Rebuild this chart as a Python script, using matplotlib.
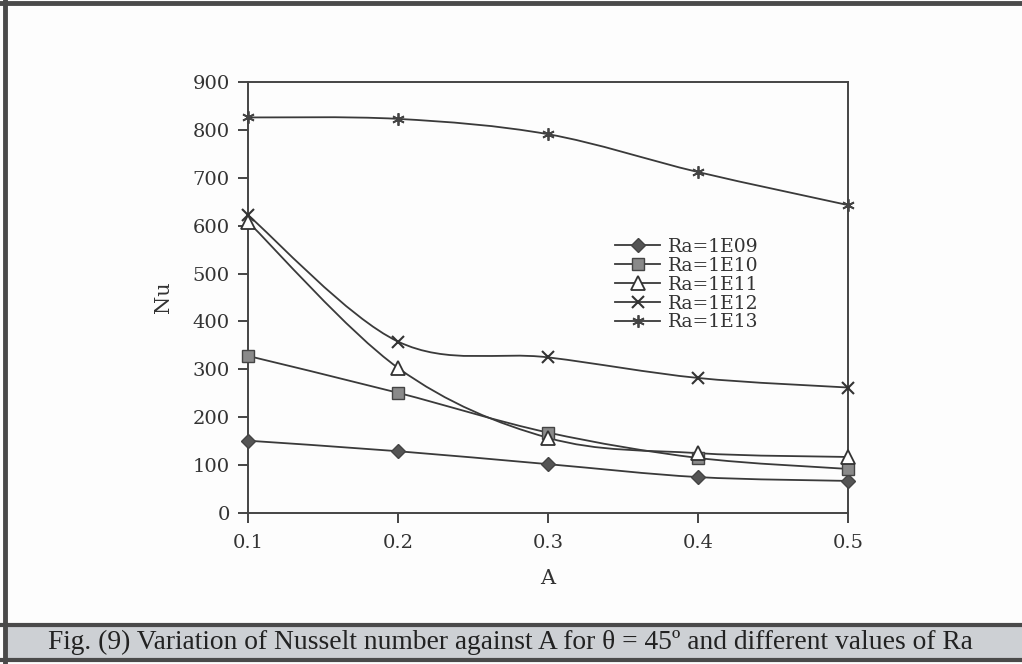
import numpy as np
import matplotlib.pyplot as plt
from matplotlib.path import Path
from matplotlib.patches import PathPatch, Rectangle
from matplotlib.lines import Line2D

plt.rcParams['font.family'] = ['DejaVu Serif']

A = [0.1, 0.2, 0.3, 0.4, 0.5]
labels = ["Ra=1E09", "Ra=1E10", "Ra=1E11", "Ra=1E12", "Ra=1E13"]
nu_1e09 = [151, 129, 102, 75, 67]
nu_1e10 = [328, 251, 168, 115, 92]
nu_1e11 = [608, 303, 157, 125, 117]
nu_1e12 = [622, 358, 325, 282, 262]
nu_1e13 = [826, 823, 791, 712, 643]
series = [nu_1e09, nu_1e10, nu_1e11, nu_1e12, nu_1e13]

ink = '#3a3a3a'
styles = [
    dict(marker='D', ms=7, mfc='#555555', mec='#444444'),
    dict(marker='s', ms=8, mfc='#8a8a8a', mec='#444444'),
    dict(marker='^', ms=10, mfc='white', mec='#333333', mew=1.3),
    dict(marker='x', ms=8, mfc='none', mec='#333333', mew=1.5),
    dict(marker=(6, 2, 0), ms=9, mfc='none', mec='#444444', mew=1.3),
]


def smooth_path(x, y):
    # Catmull-Rom style Bezier segments through the points
    pts = np.column_stack([x, y]).astype(float)
    n = len(pts)
    verts = [pts[0]]
    codes = [Path.MOVETO]
    for i in range(n - 1):
        p0 = pts[i - 1] if i > 0 else pts[i]
        p1 = pts[i]
        p2 = pts[i + 1]
        p3 = pts[i + 2] if i + 2 < n else pts[i + 1]
        c1 = p1 + (p2 - p0) / 6.0
        c2 = p2 - (p3 - p1) / 6.0
        verts += [c1, c2, p2]
        codes += [Path.CURVE4] * 3
    return Path(verts, codes)


W, H = 1022, 664
fig = plt.figure(figsize=(W / 100, H / 100), dpi=100)
fig.patch.set_facecolor('#fdfdfd')

# page frame and caption strip
frame = dict(color='#4a4a4a', transform=fig.transFigure)
fig.add_artist(Line2D([5 / W, 5 / W], [0, 1], lw=3.5, **frame))
fig.add_artist(Line2D([0, 1], [1 - 3 / H, 1 - 3 / H], lw=3.5, **frame))
fig.add_artist(Rectangle((5 / W, 1 - 659 / H), 1, 33 / H, transform=fig.transFigure,
                         facecolor='#cdd0d4', edgecolor='none'))
fig.add_artist(Line2D([0, 1], [1 - 625 / H, 1 - 625 / H], lw=3, **frame))
fig.add_artist(Line2D([0, 1], [1 - 660 / H, 1 - 660 / H], lw=3, **frame))
fig.text(510 / W, 1 - 642 / H,
         'Fig. (9) Variation of Nusselt number against A for \u03b8 = 45\u00ba and different values of Ra',
         ha='center', va='center', fontsize=19.8, color='#222222',
         family=['Liberation Serif', 'DejaVu Serif'])

ax = fig.add_axes([248 / W, 1 - 513 / H, 600 / W, 431 / H])
ax.set_facecolor('none')

for vals, lab, st in zip(series, labels, styles):
    ax.add_patch(PathPatch(smooth_path(A, vals), facecolor='none', edgecolor=ink, lw=1.3))
    ax.plot(A, vals, ls='none', clip_on=False, zorder=3, **st)

handles = [Line2D([], [], color=ink, lw=1.3, **st) for st in styles]
leg = ax.legend(handles, labels, loc='center left', bbox_to_anchor=(0.612, 0.53),
                frameon=False, fontsize=13.5, handlelength=2.4, handletextpad=0.4,
                labelspacing=0.05, borderpad=0, borderaxespad=0)
for t in leg.get_texts():
    t.set_color('#333333')

ax.set_xlim(0.1, 0.5)
ax.set_ylim(0, 900)
ax.set_xticks(A)
ax.set_xticklabels([f'{a:.1f}' for a in A])
ax.set_yticks(range(0, 901, 100))
for s in ax.spines.values():
    s.set_color('#444444')
    s.set_linewidth(1.4)
ax.tick_params(colors='#444444', labelcolor='#333333', labelsize=14,
               length=7, width=1.4, direction='out')
ax.tick_params(axis='x', pad=8)
ax.tick_params(axis='y', pad=6)
ax.set_xlabel('A', fontsize=15, color='#333333', labelpad=12)
ax.set_ylabel('Nu', fontsize=15, color='#333333', labelpad=14)

fig.savefig('out.png', dpi=100, facecolor=fig.get_facecolor())
